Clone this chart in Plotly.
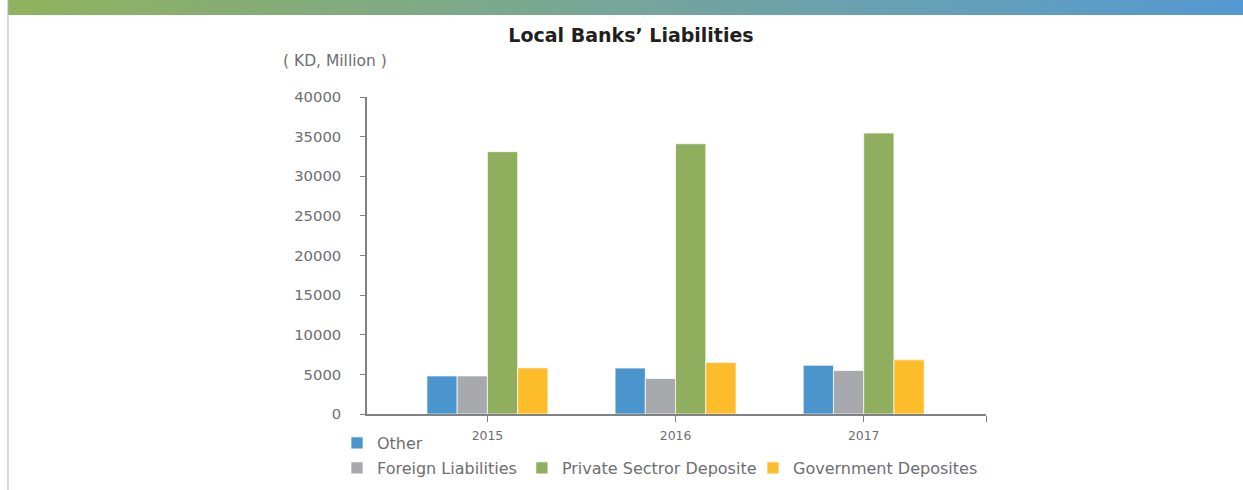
import base64
import plotly.graph_objects as go

years = [2015, 2016, 2017]
year_labels = ["2015", "2016", "2017"]
other = [4800, 5800, 6150]
foreign = [4800, 4480, 5490]
private = [33100, 34100, 35450]
government = [5820, 6500, 6830]

series_names = ["Other", "Foreign Liabilities", "Private Sectror Deposite", "Government Deposites"]
series_values = [other, foreign, private, government]
series_colors = ["#4a96cc", "#a7a9ac", "#8faf5f", "#fdbd2a"]
series_legends = ["legend", "legend2", "legend2", "legend3"]

y_ticks = [0, 5000, 10000, 15000, 20000, 25000, 30000, 35000, 40000]

W, H = 1243, 490
ML, MR, MT, MB = 367, 257, 97, 76
PW, PH = W - ML - MR, H - MT - MB

TEXT = "#6d6e71"
FONT = "DejaVu Sans"


def px_x(p):
    return (p - ML) / PW


def px_y(p):
    return (H - MB - p) / PH


fig = go.Figure()
for name, vals, col, lg in zip(series_names, series_values, series_colors, series_legends):
    fig.add_trace(go.Bar(
        x=years, y=vals, name=name, showlegend=True,
        marker=dict(color=col, line=dict(color="rgba(255,255,255,0.7)", width=1)),
        legend=lg,
    ))

svg = (
    '<svg xmlns="http://www.w3.org/2000/svg" width="1235" height="15">'
    '<defs><linearGradient id="g" x1="0" x2="1" y1="0" y2="0">'
    '<stop offset="0" stop-color="#90b25c"/>'
    '<stop offset="0.5" stop-color="#75a69a"/>'
    '<stop offset="1" stop-color="#5599d2"/>'
    '</linearGradient></defs>'
    '<rect width="1235" height="15" fill="url(#g)"/></svg>'
)
src = "data:image/svg+xml;base64," + base64.b64encode(svg.encode()).decode()

legend_common = dict(orientation="h", xref="container", yref="container",
                     xanchor="left", yanchor="top",
                     font=dict(size=16, color=TEXT), bgcolor="rgba(0,0,0,0)")

fig.update_layout(
    width=W, height=H,
    margin=dict(l=ML, r=MR, t=MT, b=MB, autoexpand=False),
    paper_bgcolor="white", plot_bgcolor="white",
    showlegend=True,
    barmode="group", bargap=0.357, bargroupgap=0,
    font=dict(family=FONT, color=TEXT, size=13),
    title=dict(text="<b>Local Banks’ Liabilities</b>", x=631 / W, xanchor="center",
               y=1 - 35 / H, yanchor="middle",
               font=dict(family=FONT, size=19, color="#231f20")),
    xaxis=dict(range=[2014.36, 2017.65], tickvals=years + [2017.65],
               ticktext=year_labels + [""], showline=True, linecolor="#808285",
               linewidth=1.5, ticks="outside", ticklen=6, tickcolor="#808285",
               ticklabelstandoff=3,
               showgrid=False, zeroline=False, tickfont=dict(size=12.4, color=TEXT),
               fixedrange=True),
    yaxis=dict(range=[0, 40000], tickvals=y_ticks, tickformat="d", showline=True,
               linecolor="#808285", linewidth=1.5, ticks="outside", ticklen=5,
               tickcolor="#808285", showgrid=False, zeroline=False,
               ticklabelstandoff=16, tickfont=dict(size=14.8, color=TEXT)),
    legend=dict(legend_common, x=337 / W, y=1 - 426 / H),
    legend2=dict(legend_common, x=337 / W, y=1 - 451 / H),
    legend3=dict(legend_common, x=753 / W, y=1 - 451 / H),
    images=[dict(source=src, xref="paper", yref="paper", x=px_x(8), y=px_y(0),
                 sizex=px_x(W) - px_x(8), sizey=px_y(0) - px_y(15),
                 xanchor="left", yanchor="top", sizing="stretch", layer="above")],
    shapes=[dict(type="line", xref="paper", yref="paper", x0=px_x(8), x1=px_x(8),
                 y0=px_y(0), y1=px_y(H), line=dict(color="#b0b0b0", width=1))],
    annotations=[dict(text="( KD, Million )", xref="paper", yref="paper",
                      x=px_x(335), y=px_y(61), xanchor="center", yanchor="middle",
                      showarrow=False, font=dict(size=15.5, color=TEXT))],
)

fig.write_html("out.html")
